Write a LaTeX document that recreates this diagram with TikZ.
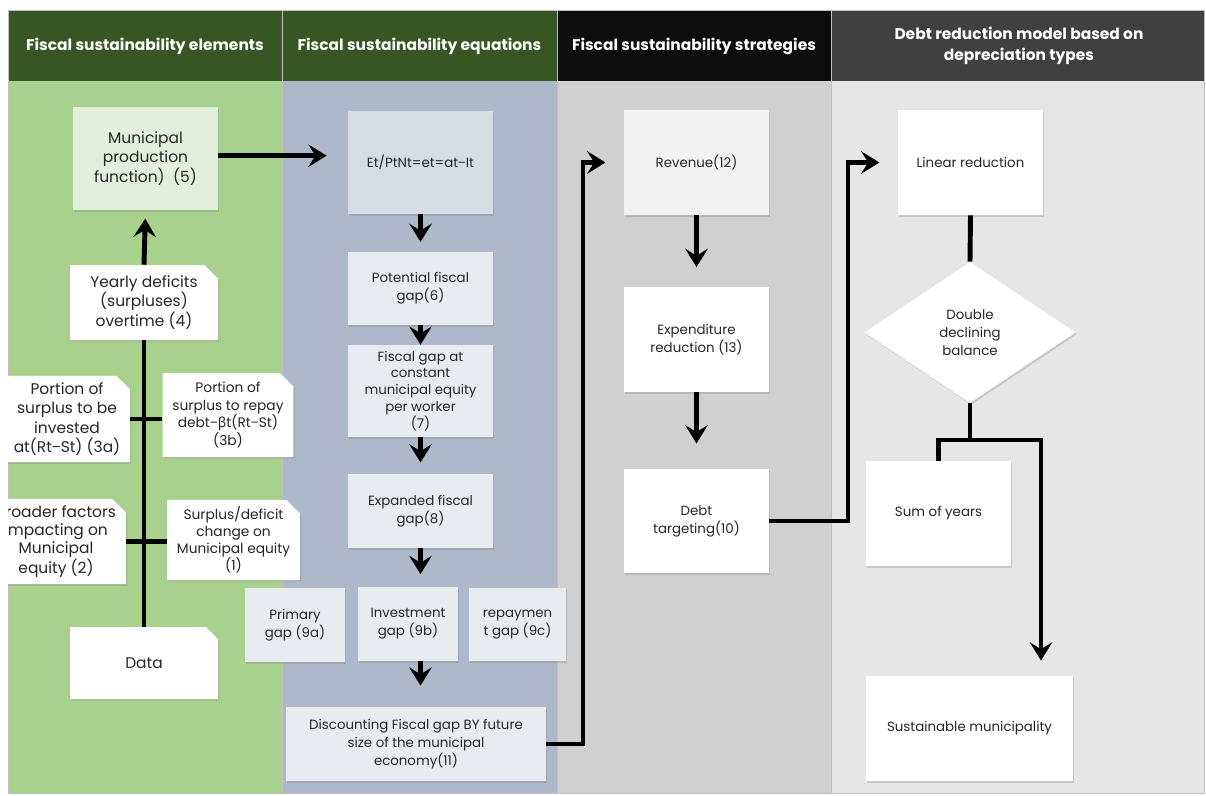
\documentclass[tikz,border=0pt]{standalone}
\usepackage{fontspec}
\setmainfont{Poppins}
\newfontfamily\symfont{Noto Sans}
\usetikzlibrary{arrows.meta,shapes.geometric,shapes.misc,shadows}

\definecolor{hdgreen}{HTML}{375623}
\definecolor{hdblack}{HTML}{0D0D0D}
\definecolor{hdgray}{HTML}{404040}
\definecolor{bggreen}{HTML}{A9D18E}
\definecolor{bgblue}{HTML}{ADB9CA}
\definecolor{bggray}{HTML}{D0D0D0}
\definecolor{bglight}{HTML}{E7E6E6}
\definecolor{sepgray}{HTML}{BFBFBF}
\definecolor{mintbox}{HTML}{E2EFDA}
\definecolor{steelbox}{HTML}{D6DCE5}
\definecolor{paleblue}{HTML}{E8EBF0}
\definecolor{offwhite}{HTML}{F2F2F2}
\definecolor{txtgray}{HTML}{262626}

\tikzset{
    colhead/.style={text=white, font=\bfseries\fontsize{11}{15}\selectfont, align=center},
    card/.style={rectangle, fill=white, align=center, inner sep=1pt, text=txtgray,
        font=\fontsize{9.5}{12.8}\selectfont,
        drop shadow={shadow xshift=1pt, shadow yshift=-1.2pt, opacity=.3}},
    tag/.style={card, chamfered rectangle, chamfered rectangle corners=north east,
        chamfered rectangle xsep=6pt, font=\fontsize{11}{13.9}\selectfont},
    boxsize/.style 2 args={minimum width=#1*0.025cm, minimum height=#2*0.025cm},
    wire/.style={line width=3.5pt},
    wirearr/.style={wire, -{Stealth[length=13pt, width=16pt, inset=5pt]}}
}

\begin{document}
\begin{tikzpicture}[x=0.025cm, y=-0.025cm]

\useasboundingbox (0,0) rectangle (1206,796);
\fill[white] (0,0) rectangle (1206,796);

% columns
\fill[bggreen] (8,81) rectangle (282,793);
\fill[bgblue] (282,81) rectangle (557,793);
\fill[bggray] (557,81) rectangle (831,793);
\fill[bglight] (831,81) rectangle (1204,793);
\fill[hdgreen] (8,10) rectangle (557,81);
\fill[hdblack] (557,10) rectangle (831,81);
\fill[hdgray] (831,10) rectangle (1204,81);
\draw[sepgray, line width=0.6pt] (8,10) rectangle (1204,793);
\draw[sepgray, line width=0.6pt] (282,10) -- (282,793) (557,10) -- (557,793) (831,10) -- (831,793);

\node[colhead] (h1) at (145,46) {Fiscal sustainability elements};
\node[colhead] (h2) at (419.5,46) {Fiscal sustainability equations};
\node[colhead] (h3) at (694,46) {Fiscal sustainability strategies};
\node[colhead] (h4) at (1019,46) {Debt reduction model based on\\depreciation types};

% elements
\node[card, boxsize={145}{103}, fill=mintbox, font=\fontsize{11}{13.9}\selectfont] (mpf) at (145.5,158.5) {Municipal\\production\\function)~ (5)};
\node[tag, boxsize={148}{75}] (yearly) at (144,302.5) {Yearly deficits\\(surpluses)\\overtime (4)};
\begin{scope}
  \clip (8,81) rectangle (282,793);
  \node[tag, boxsize={126}{78}] (p3a) at (67,419) {Portion of\\surplus to be\\invested\\at(Rt{\symfont −}St) (3a)};
  \node[tag, boxsize={136}{73}, font=\fontsize{11}{13}\selectfont] (broad) at (56,541.5) {Broader factors\\impacting on\\Municipal\\equity (2)};
\end{scope}
\node[tag, boxsize={126}{84}, font=\fontsize{9.8}{12.6}\selectfont] (p3b) at (228,415) {Portion of\\surplus to repay\\debt{\symfont −β}t(Rt{\symfont −}St)\\(3b)};
\node[tag, boxsize={127}{70}, font=\fontsize{9.8}{12.2}\selectfont] (surp) at (233.5,540) {Surplus/deficit\\change on\\Municipal equity\\(1)};
\node[tag, boxsize={148}{72}] (data) at (144,663) {Data};

% equations
\node[card, boxsize={145}{103}, fill=steelbox] (et) at (420.5,162.5) {Et/PtNt=et=at{\symfont −}It};
\node[card, boxsize={145}{73}, fill=paleblue] (pot) at (420.5,288.5) {Potential fiscal\\gap(6)};
\node[card, boxsize={145}{92}, fill=paleblue, font=\fontsize{9.5}{12}\selectfont] (fg7) at (420.5,391) {Fiscal gap at\\constant\\municipal equity\\per worker\hspace{20pt}\\(7)};
\node[card, boxsize={145}{74}, fill=paleblue] (exp) at (420.5,511) {Expanded fiscal\\gap(8)};
\node[card, boxsize={100}{74}, fill=paleblue] (g9a) at (295,625) {Primary\\gap (9a)};
\node[card, boxsize={100}{74}, fill=paleblue] (g9b) at (408,624) {Investment\\gap (9b)};
\node[card, boxsize={97}{73}, fill=paleblue] (g9c) at (517.5,624.5) {repaymen\\t gap (9c)};
\node[card, boxsize={260}{74}, fill=paleblue] (disc) at (416,744) {Discounting Fiscal gap BY future\\size of the municipal\\economy(11)};

% strategies
\node[card, boxsize={145}{105}, fill=offwhite] (rev) at (696.5,162.5) {Revenue(12)};
\node[card, boxsize={145}{105}] (expd) at (696.5,339.5) {Expenditure\\reduction (13)};
\node[card, boxsize={145}{104}] (debt) at (696.5,521) {Debt\\targeting(10)};

% debt reduction
\node[card, boxsize={145}{105}] (lin) at (970.5,162.5) {Linear reduction};
\node[card, diamond, inner sep=0pt, boxsize={211}{141}] (ddb) at (970,332.5) {Double\\declining\\balance};
\node[card, boxsize={145}{105}] (soy) at (938.5,513.5) {Sum of years};
\node[card, boxsize={207}{105}] (sus) at (969.5,728.5) {Sustainable municipality};

\coordinate (up1) at (583,162.5);
\coordinate (up2) at (848,162.5);
\coordinate (split) at (970,440);
\coordinate (drop) at (1041,676);

% connectors
\draw[wirearr, shorten >=6pt] (yearly.north) -- (mpf.south);
\draw[wire] (yearly.south) -- (data.north);
\draw[wire] (p3a.east) -- (p3a.east -| p3b.west);
\draw[wire] (broad.east) -- (broad.east -| surp.west);
\draw[wirearr, shorten >=15pt] ([yshift=2pt]mpf.east) -- ([yshift=2pt]mpf.east -| et.west);

\draw[wirearr, shorten >=7pt] (et.south) -- (pot.north);
\draw[wirearr] (pot.south) -- (fg7.north);
\draw[wirearr, shorten >=8pt] (fg7.south) -- (exp.north);
\draw[wirearr, shorten >=9pt] (exp.south) -- (exp.south |- g9b.north);
\draw[wirearr, shorten >=15pt] (g9b.south -| exp.south) -- (disc.north -| exp.south);
\draw[wirearr, shorten >=13pt] (disc.east) -| (up1) -- (rev.west);

\draw[wirearr, shorten >=14pt] (rev.south) -- (expd.north);
\draw[wirearr, shorten >=18pt] (expd.south) -- (debt.north);
\draw[wirearr, shorten >=13pt] (debt.east) -| (up2) -- (lin.west);

\draw[wire] (lin.south) -- (ddb.north);
\draw[wire] (ddb.south) -- (split);
\draw[wirearr, shorten >=11pt] (soy.north) |- (drop |- split) -- (drop);
\end{tikzpicture}
\end{document}
